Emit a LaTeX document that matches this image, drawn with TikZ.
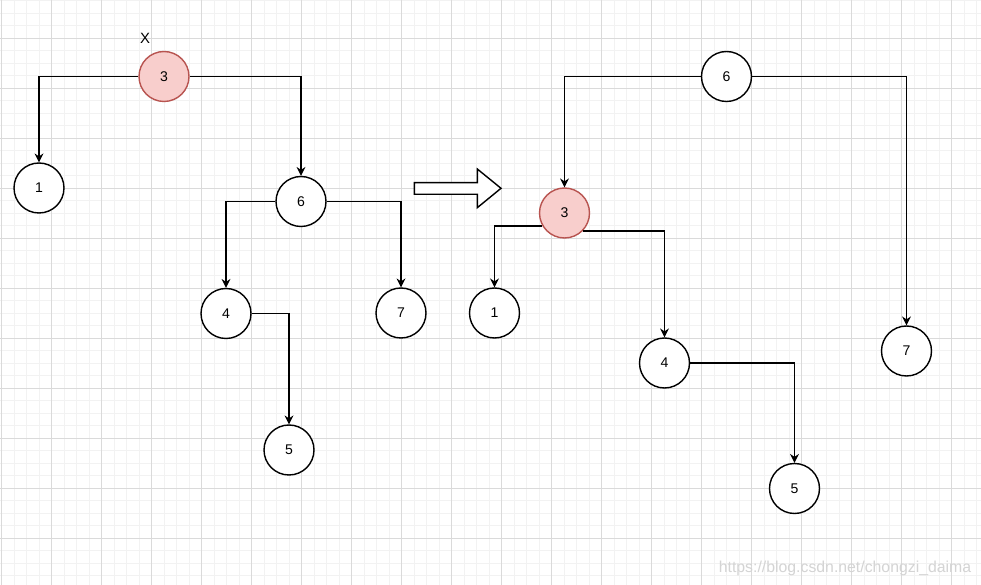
\documentclass[tikz,border=0pt]{standalone}
\usepackage{fontspec}
\setmainfont{Liberation Sans}
\usetikzlibrary{arrows.meta}
\definecolor{figline}{RGB}{0,0,0}
\definecolor{gridmin}{RGB}{242,242,242}
\definecolor{gridmaj}{RGB}{218,218,218}
\definecolor{delfill}{RGB}{248,206,204}
\definecolor{deldraw}{RGB}{184,84,80}
\definecolor{wmark}{RGB}{212,212,212}
\tikzset{
  nd/.style  ={circle, draw=figline, fill=white, line width=0.8pt, minimum size=1cm, inner sep=0pt, font=\fontsize{8}{9}\selectfont},
  ndx/.style ={nd, draw=deldraw, fill=delfill},
  lab/.style ={font=\fontsize{8.5}{9}\selectfont, inner sep=1pt},
  lnk/.style ={draw=figline, line width=1pt, -{Stealth[length=5pt,width=5pt]}},
  gmin/.style={draw=gridmin, line width=0.5pt},
  gmaj/.style={draw=gridmaj, line width=0.5pt},
  wm/.style  ={text=wmark, font=\fontsize{9}{10}\selectfont, inner sep=0pt},
}
\begin{document}
\begin{tikzpicture}[x=0.02cm,y=0.02cm]
  \useasboundingbox (0,0) rectangle (981,585);
  \fill[white] (0,0) rectangle (981,585);
  % grid
  \foreach \gi in {0,...,78} \draw[gmin] ({1.5+12.5*\gi},0) -- ({1.5+12.5*\gi},585);
  \foreach \gi in {0,...,46} \draw[gmin] (0,{9.5+12.5*\gi}) -- (981,{9.5+12.5*\gi});
  \foreach \gi in {0,...,19} \draw[gmaj] ({1.5+50*\gi},0) -- ({1.5+50*\gi},585);
  \foreach \gi in {0,...,10} \draw[gmaj] (0,{47+50*\gi}) -- (981,{47+50*\gi});
  % tree before
  \node[ndx] (l3) at (164,508.5) {3};
  \node[lab] (lx) at (145,547) {X};
  \node[nd] (l1) at (39,397) {1};
  \node[nd] (l6) at (301,383.5) {6};
  \node[nd] (l4) at (226,271.5) {4};
  \node[nd] (l7) at (401,272) {7};
  \node[nd] (l5) at (289,135) {5};
  \draw[lnk] (l3.west) -| (l1.north);
  \draw[lnk] (l3.east) -| (l6.north);
  \draw[lnk] (l6.west) -| (l4.north);
  \draw[lnk] (l6.east) -| (l7.north);
  \draw[lnk] (l4.east) -| (l5.north);
  % hollow arrow
  \draw[figline, line width=0.8pt, fill=white] (414.3,402.3) -- (477.3,402.3) -- (477.3,416)
    -- (501,396.7) -- (477.3,377.3) -- (477.3,390.7) -- (414.3,390.7) -- cycle;
  % tree after
  \node[nd] (r6) at (726.5,508.5) {6};
  \node[ndx] (r3) at (564.5,372) {3};
  \node[nd] (r1) at (494.5,272) {1};
  \node[nd] (r4) at (664.5,222) {4};
  \node[nd] (r7) at (906.5,234) {7};
  \node[nd] (r5) at (794.5,96.5) {5};
  \draw[lnk] (r6.west) -| (r3.north);
  \draw[lnk] (r6.east) -| (r7.north);
  \draw[lnk] (r3.210) -| (r1.north);
  \draw[lnk] (r3.-45) -| (r4.north);
  \draw[lnk] (r4.east) -| (r5.north);
  \node[wm] (wm) at (845,17) {https://blog.csdn.net/chongzi\_daima};
\end{tikzpicture}
\end{document}
